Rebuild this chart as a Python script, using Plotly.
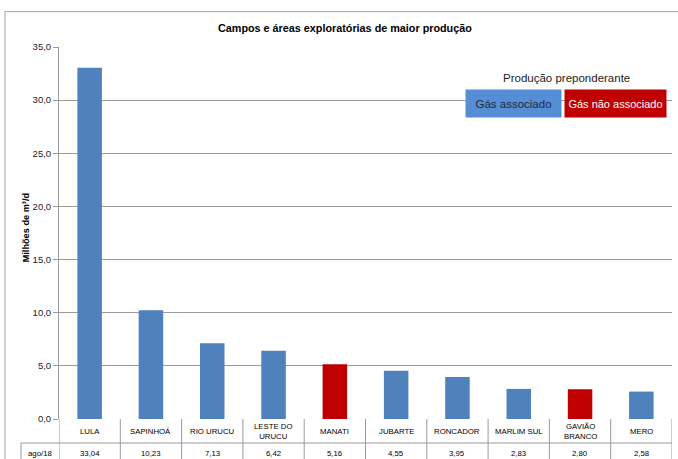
import plotly.graph_objects as go

categories = ["LULA", "SAPINHOÁ", "RIO URUCU", "LESTE DO<br>URUCU", "MANATI",
              "JUBARTE", "RONCADOR", "MARLIM SUL", "GAVIÃO<br>BRANCO", "MERO"]
values = [33.04, 10.23, 7.13, 6.42, 5.16, 4.55, 3.95, 2.83, 2.80, 2.58]
gas_type = ["assoc", "assoc", "assoc", "assoc", "nao",
            "assoc", "assoc", "assoc", "nao", "assoc"]
period_label = "ago/18"
y_ticks = [0, 5, 10, 15, 20, 25, 30, 35]

BAR_COLORS = {"assoc": "#4F81BD", "nao": "#C00000"}
GRID = "#9A9A9A"
FONT = "Liberation Sans, Arial, sans-serif"

x_idx = list(range(len(categories)))

fig = go.Figure()
fig.add_trace(go.Bar(
    x=x_idx, y=values,
    marker=dict(color=[BAR_COLORS[t] for t in gas_type], line=dict(width=0)),
    width=0.4, showlegend=False,
))

shapes = []
# outer chart border
shapes.append(dict(type="rect", xref="paper", yref="paper", x0=-0.0881, x1=1.05,
                   y0=-0.3, y1=1.095, line=dict(color="#A0A0A0", width=1)))
# data table lines
for i in range(len(categories) + 1):
    shapes.append(dict(type="line", xref="x", yref="paper", x0=i - 0.5, x1=i - 0.5,
                       y0=0, y1=-0.15, line=dict(color=GRID, width=1)))
shapes.append(dict(type="line", xref="paper", yref="paper", x0=-0.062, x1=1.0,
                   y0=-0.0645, y1=-0.0645, line=dict(color=GRID, width=1)))
shapes.append(dict(type="line", xref="paper", yref="paper", x0=-0.062, x1=-0.062,
                   y0=-0.0645, y1=-0.15, line=dict(color=GRID, width=1)))


def ann(text, x, y, size, color="#000000", xref="paper", **kw):
    d = dict(text=text, xref=xref, yref="paper", x=x, y=y, showarrow=False,
             xanchor="center", yanchor="middle",
             font=dict(size=size, color=color, family=FONT))
    d.update(kw)
    return d


annotations = []
annotations.append(ann("<b>Campos e áreas exploratórias de maior produção</b>",
                       0.467, 1.051, 10.8))
annotations.append(ann("<b>Milhões de m³/d</b>", -0.0535, 0.513, 9.2, textangle=-90))
for i, (c, v) in enumerate(zip(categories, values)):
    annotations.append(ann(c, i, -0.033, 7.8, xref="x"))
    annotations.append(ann(f"{v:.2f}".replace(".", ","), i, -0.093, 7.8, xref="x"))
annotations.append(ann(period_label, -0.031, -0.093, 7.8))
annotations.append(ann("Produção preponderante", 0.8287, 0.9167, 11.5, color="#222222"))
annotations.append(ann("Gás associado", 0.7414, 0.848, 11.5, color="#1F2A44",
                       bgcolor="#558ED5", width=95, height=27, borderpad=0))
annotations.append(ann("Gás não associado", 0.9078, 0.848, 11, color="#FFFFFF",
                       bgcolor="#C00000", width=101, height=27, borderpad=0))

fig.update_layout(
    width=678, height=459,
    margin=dict(l=59, r=6, t=47, b=40),
    paper_bgcolor="white", plot_bgcolor="white",
    separators=",.",
    font=dict(family=FONT, color="#000000"),
    xaxis=dict(range=[-0.5, len(categories) - 0.5], showticklabels=False, showgrid=False,
               zeroline=False, showline=False, fixedrange=True),
    yaxis=dict(range=[0, 35], tickvals=y_ticks, tickformat=".1f", showgrid=True,
               gridcolor=GRID, gridwidth=1, zeroline=False, showline=True,
               linecolor=GRID, linewidth=1, ticks="outside", ticklen=5, tickcolor=GRID,
               tickfont=dict(size=9.5, color="#222222", family=FONT)),
    shapes=shapes,
    annotations=annotations,
)

fig.write_html("out.html", config={"displayModeBar": False},
               post_script="document.body.style.margin='0';")
